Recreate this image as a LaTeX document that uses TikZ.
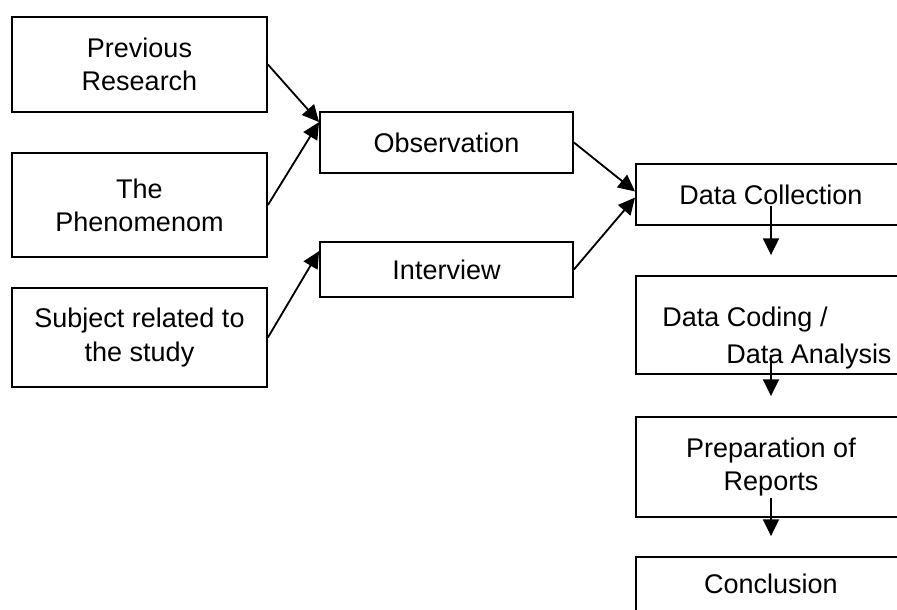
\documentclass[tikz,border=0pt]{standalone}
\usepackage{fontspec}
\setmainfont{Liberation Sans}
\usetikzlibrary{arrows.meta,positioning,calc}

\begin{document}
\begin{tikzpicture}[x=0.025cm, y=-0.025cm,
    box/.style={draw, line width=1.3pt, inner sep=0pt, align=center,
      font=\fontsize{19.2}{23.5}\selectfont},
    arr/.style={line width=1.3pt, -{Triangle[length=0.42cm, width=0.4cm]}}]
    % px units, y runs downward
    \def\px{0.025cm}
    \useasboundingbox (0,0) rectangle (897,610);
    \clip (0,0) rectangle (897,610);

    % Sources (left column)
    \node[box, minimum width=255*\px, minimum height=95*\px] (prev) at (139.5, 64.5) {Previous\\Research};
    \node[box, minimum width=255*\px, minimum height=104*\px] (phen) at (139.5, 205) {The\\Phenomenom};
    \node[box, minimum width=255*\px, minimum height=99*\px] (subj) at (139.5, 337.5) {Subject related to\\the study};

    % Methods (middle)
    \node[box, minimum width=253*\px, minimum height=61*\px] (obs) at (446.5, 142.5) {Observation};
    \node[box, minimum width=253*\px, minimum height=55*\px] (intv) at (446.5, 269.5) {Interview};

    % Steps (right column, runs off the page)
    \node[box, minimum width=270*\px, minimum height=61*\px] (coll) at (771, 194.5) {Data Collection};
    \node[box, align=left, minimum width=270*\px, minimum height=98*\px] (cod) at (771, 325)
        {\hspace*{0.3cm}\rule{0pt}{1.15cm}Data Coding /\\[3pt]\hspace*{1.9cm}Data Analysis};
    \node[box, minimum width=270*\px, minimum height=100*\px] (prep) at (771, 467) {Preparation of\\Reports};
    \node[box, minimum width=270*\px, minimum height=80*\px, text depth=26*\px] (concl) at (771, 597) {Conclusion};

    % Arrow ends
    \coordinate (obsin) at ($(obs.north west)+(0,11)$);
    \coordinate (intvin) at ($(intv.north west)+(0,10)$);

    % Connectors
    \draw[arr] (prev.east) -- (obsin);
    \draw[arr] (phen.east) -- (obsin);
    \draw[arr] (subj.east) -- (intvin);
    \draw[arr] (obs.east) -- ($(coll.west)+(0,-3)$);
    \draw[arr] (intv.east) -- ($(coll.west)+(0,3)$);
    \foreach \a/\b in {coll/cod, cod/prep, prep/concl}
        \draw[arr] ($(\a.south)+(0,-20)$) -- ($(\b.north)+(0,-20)$);
\end{tikzpicture}
\end{document}
